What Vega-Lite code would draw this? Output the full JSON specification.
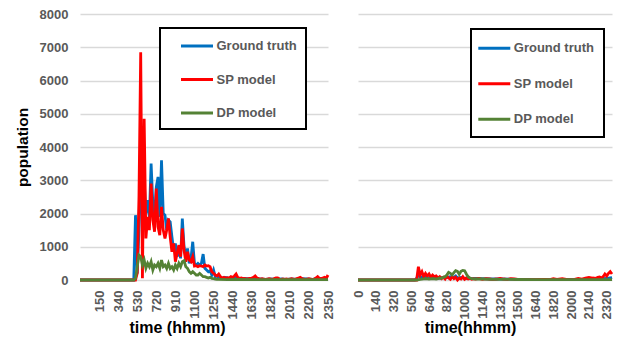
{
  "$schema": "https://vega.github.io/schema/vega-lite/v6.json",
  "background": "white",
  "padding": {"left": 15, "top": 8, "right": 5, "bottom": 0},
  "spacing": 16,
  "resolve": {"legend": {"color": "independent"}},
  "config": {
    "view": {"stroke": null},
    "font": "Liberation Sans",
    "axis": {
      "labelFont": "Liberation Sans", "labelFontWeight": "bold", "labelColor": "#595959", "labelFontSize": 13,
      "titleFont": "Liberation Sans", "titleFontWeight": "bold", "titleColor": "#000000", "titleFontSize": 15.5,
      "gridColor": "#d9d9d9", "gridWidth": 1.5, "ticks": false, "domain": false
    },
    "legend": {"strokeColor": "#000000", "strokeWidth": 2, "fillColor": "#ffffff"}
  },
  "datasets": {
    "left": [
      {"series":"Ground truth","minute":0,"value":0},{"series":"Ground truth","minute":310,"value":0},{"series":"Ground truth","minute":320,"value":1950},{"series":"Ground truth","minute":330,"value":200},{"series":"Ground truth","minute":340,"value":1500},{"series":"Ground truth","minute":350,"value":4200},{"series":"Ground truth","minute":360,"value":1500},{"series":"Ground truth","minute":370,"value":3000},{"series":"Ground truth","minute":380,"value":2000},{"series":"Ground truth","minute":390,"value":2400},{"series":"Ground truth","minute":400,"value":1900},{"series":"Ground truth","minute":410,"value":3500},{"series":"Ground truth","minute":420,"value":2300},{"series":"Ground truth","minute":430,"value":1900},{"series":"Ground truth","minute":440,"value":2800},{"series":"Ground truth","minute":450,"value":3100},{"series":"Ground truth","minute":460,"value":1900},{"series":"Ground truth","minute":470,"value":3600},{"series":"Ground truth","minute":480,"value":2000},{"series":"Ground truth","minute":490,"value":1950},{"series":"Ground truth","minute":500,"value":1500},{"series":"Ground truth","minute":510,"value":1800},{"series":"Ground truth","minute":520,"value":1750},{"series":"Ground truth","minute":530,"value":1300},{"series":"Ground truth","minute":540,"value":900},{"series":"Ground truth","minute":550,"value":1100},{"series":"Ground truth","minute":560,"value":700},{"series":"Ground truth","minute":570,"value":1000},{"series":"Ground truth","minute":580,"value":650},{"series":"Ground truth","minute":590,"value":1850},{"series":"Ground truth","minute":600,"value":1000},{"series":"Ground truth","minute":610,"value":700},{"series":"Ground truth","minute":620,"value":950},{"series":"Ground truth","minute":630,"value":500},{"series":"Ground truth","minute":640,"value":650},{"series":"Ground truth","minute":650,"value":1150},{"series":"Ground truth","minute":660,"value":500},{"series":"Ground truth","minute":670,"value":450},{"series":"Ground truth","minute":680,"value":500},{"series":"Ground truth","minute":690,"value":450},{"series":"Ground truth","minute":700,"value":500},{"series":"Ground truth","minute":710,"value":780},{"series":"Ground truth","minute":720,"value":350},{"series":"Ground truth","minute":730,"value":300},{"series":"Ground truth","minute":740,"value":250},{"series":"Ground truth","minute":750,"value":280},{"series":"Ground truth","minute":760,"value":150},{"series":"Ground truth","minute":770,"value":300},{"series":"Ground truth","minute":780,"value":100},{"series":"Ground truth","minute":790,"value":120},{"series":"Ground truth","minute":800,"value":80},{"series":"Ground truth","minute":820,"value":60},{"series":"Ground truth","minute":840,"value":80},{"series":"Ground truth","minute":860,"value":50},{"series":"Ground truth","minute":880,"value":60},{"series":"Ground truth","minute":900,"value":80},{"series":"Ground truth","minute":920,"value":40},{"series":"Ground truth","minute":950,"value":50},{"series":"Ground truth","minute":980,"value":30},{"series":"Ground truth","minute":1010,"value":60},{"series":"Ground truth","minute":1040,"value":30},{"series":"Ground truth","minute":1070,"value":20},{"series":"Ground truth","minute":1100,"value":30},{"series":"Ground truth","minute":1130,"value":20},{"series":"Ground truth","minute":1160,"value":30},{"series":"Ground truth","minute":1190,"value":20},{"series":"Ground truth","minute":1220,"value":30},{"series":"Ground truth","minute":1250,"value":20},{"series":"Ground truth","minute":1280,"value":40},{"series":"Ground truth","minute":1310,"value":30},{"series":"Ground truth","minute":1340,"value":20},{"series":"Ground truth","minute":1370,"value":40},{"series":"Ground truth","minute":1400,"value":50},{"series":"Ground truth","minute":1430,"value":60},
      {"series":"SP model","minute":0,"value":0},{"series":"SP model","minute":320,"value":0},{"series":"SP model","minute":330,"value":200},{"series":"SP model","minute":340,"value":2500},{"series":"SP model","minute":350,"value":6850},{"series":"SP model","minute":360,"value":50},{"series":"SP model","minute":370,"value":4850},{"series":"SP model","minute":380,"value":1250},{"series":"SP model","minute":390,"value":1900},{"series":"SP model","minute":400,"value":1500},{"series":"SP model","minute":410,"value":2900},{"series":"SP model","minute":420,"value":1800},{"series":"SP model","minute":430,"value":1450},{"series":"SP model","minute":440,"value":2750},{"series":"SP model","minute":450,"value":1600},{"series":"SP model","minute":460,"value":1350},{"series":"SP model","minute":470,"value":2200},{"series":"SP model","minute":480,"value":1500},{"series":"SP model","minute":490,"value":1250},{"series":"SP model","minute":500,"value":1500},{"series":"SP model","minute":510,"value":1850},{"series":"SP model","minute":520,"value":1300},{"series":"SP model","minute":530,"value":850},{"series":"SP model","minute":540,"value":1100},{"series":"SP model","minute":550,"value":550},{"series":"SP model","minute":560,"value":800},{"series":"SP model","minute":570,"value":1050},{"series":"SP model","minute":580,"value":700},{"series":"SP model","minute":590,"value":1550},{"series":"SP model","minute":600,"value":900},{"series":"SP model","minute":610,"value":550},{"series":"SP model","minute":620,"value":850},{"series":"SP model","minute":630,"value":600},{"series":"SP model","minute":640,"value":550},{"series":"SP model","minute":650,"value":700},{"series":"SP model","minute":660,"value":420},{"series":"SP model","minute":670,"value":430},{"series":"SP model","minute":680,"value":400},{"series":"SP model","minute":690,"value":430},{"series":"SP model","minute":700,"value":420},{"series":"SP model","minute":710,"value":400},{"series":"SP model","minute":720,"value":450},{"series":"SP model","minute":730,"value":420},{"series":"SP model","minute":740,"value":430},{"series":"SP model","minute":750,"value":400},{"series":"SP model","minute":760,"value":250},{"series":"SP model","minute":770,"value":200},{"series":"SP model","minute":780,"value":150},{"series":"SP model","minute":790,"value":120},{"series":"SP model","minute":800,"value":180},{"series":"SP model","minute":810,"value":100},{"series":"SP model","minute":820,"value":60},{"series":"SP model","minute":830,"value":80},{"series":"SP model","minute":840,"value":50},{"series":"SP model","minute":850,"value":70},{"series":"SP model","minute":860,"value":60},{"series":"SP model","minute":870,"value":100},{"series":"SP model","minute":880,"value":80},{"series":"SP model","minute":890,"value":120},{"series":"SP model","minute":900,"value":180},{"series":"SP model","minute":910,"value":70},{"series":"SP model","minute":920,"value":50},{"series":"SP model","minute":930,"value":60},{"series":"SP model","minute":940,"value":40},{"series":"SP model","minute":950,"value":50},{"series":"SP model","minute":960,"value":30},{"series":"SP model","minute":970,"value":40},{"series":"SP model","minute":980,"value":50},{"series":"SP model","minute":990,"value":60},{"series":"SP model","minute":1000,"value":80},{"series":"SP model","minute":1010,"value":120},{"series":"SP model","minute":1020,"value":60},{"series":"SP model","minute":1030,"value":40},{"series":"SP model","minute":1040,"value":30},{"series":"SP model","minute":1050,"value":40},{"series":"SP model","minute":1060,"value":30},{"series":"SP model","minute":1070,"value":20},{"series":"SP model","minute":1080,"value":30},{"series":"SP model","minute":1090,"value":40},{"series":"SP model","minute":1100,"value":30},{"series":"SP model","minute":1110,"value":20},{"series":"SP model","minute":1120,"value":40},{"series":"SP model","minute":1130,"value":60},{"series":"SP model","minute":1140,"value":60},{"series":"SP model","minute":1150,"value":30},{"series":"SP model","minute":1160,"value":20},{"series":"SP model","minute":1170,"value":30},{"series":"SP model","minute":1180,"value":20},{"series":"SP model","minute":1190,"value":30},{"series":"SP model","minute":1200,"value":20},{"series":"SP model","minute":1210,"value":30},{"series":"SP model","minute":1220,"value":40},{"series":"SP model","minute":1230,"value":30},{"series":"SP model","minute":1240,"value":20},{"series":"SP model","minute":1250,"value":40},{"series":"SP model","minute":1260,"value":60},{"series":"SP model","minute":1270,"value":80},{"series":"SP model","minute":1280,"value":40},{"series":"SP model","minute":1290,"value":30},{"series":"SP model","minute":1300,"value":20},{"series":"SP model","minute":1310,"value":30},{"series":"SP model","minute":1320,"value":40},{"series":"SP model","minute":1330,"value":30},{"series":"SP model","minute":1340,"value":20},{"series":"SP model","minute":1350,"value":30},{"series":"SP model","minute":1360,"value":60},{"series":"SP model","minute":1370,"value":100},{"series":"SP model","minute":1380,"value":50},{"series":"SP model","minute":1390,"value":40},{"series":"SP model","minute":1400,"value":60},{"series":"SP model","minute":1410,"value":80},{"series":"SP model","minute":1420,"value":50},{"series":"SP model","minute":1430,"value":150},
      {"series":"DP model","minute":0,"value":0},{"series":"DP model","minute":310,"value":0},{"series":"DP model","minute":320,"value":50},{"series":"DP model","minute":330,"value":400},{"series":"DP model","minute":340,"value":750},{"series":"DP model","minute":350,"value":700},{"series":"DP model","minute":360,"value":450},{"series":"DP model","minute":370,"value":600},{"series":"DP model","minute":380,"value":350},{"series":"DP model","minute":390,"value":500},{"series":"DP model","minute":400,"value":400},{"series":"DP model","minute":410,"value":550},{"series":"DP model","minute":420,"value":300},{"series":"DP model","minute":430,"value":450},{"series":"DP model","minute":440,"value":400},{"series":"DP model","minute":450,"value":500},{"series":"DP model","minute":460,"value":350},{"series":"DP model","minute":470,"value":600},{"series":"DP model","minute":480,"value":400},{"series":"DP model","minute":490,"value":450},{"series":"DP model","minute":500,"value":350},{"series":"DP model","minute":510,"value":500},{"series":"DP model","minute":520,"value":350},{"series":"DP model","minute":530,"value":400},{"series":"DP model","minute":540,"value":300},{"series":"DP model","minute":550,"value":450},{"series":"DP model","minute":560,"value":350},{"series":"DP model","minute":570,"value":500},{"series":"DP model","minute":580,"value":400},{"series":"DP model","minute":590,"value":550},{"series":"DP model","minute":600,"value":580},{"series":"DP model","minute":610,"value":400},{"series":"DP model","minute":620,"value":350},{"series":"DP model","minute":630,"value":250},{"series":"DP model","minute":640,"value":200},{"series":"DP model","minute":650,"value":250},{"series":"DP model","minute":660,"value":200},{"series":"DP model","minute":670,"value":150},{"series":"DP model","minute":680,"value":150},{"series":"DP model","minute":690,"value":200},{"series":"DP model","minute":700,"value":150},{"series":"DP model","minute":710,"value":100},{"series":"DP model","minute":720,"value":100},{"series":"DP model","minute":730,"value":80},{"series":"DP model","minute":740,"value":60},{"series":"DP model","minute":750,"value":80},{"series":"DP model","minute":760,"value":50},{"series":"DP model","minute":770,"value":40},{"series":"DP model","minute":780,"value":30},{"series":"DP model","minute":790,"value":20},{"series":"DP model","minute":800,"value":20},{"series":"DP model","minute":850,"value":10},{"series":"DP model","minute":900,"value":15},{"series":"DP model","minute":1000,"value":10},{"series":"DP model","minute":1100,"value":10},{"series":"DP model","minute":1200,"value":10},{"series":"DP model","minute":1300,"value":10},{"series":"DP model","minute":1430,"value":10}
    ],
    "right": [
      {"series":"Ground truth","minute":0,"value":0},{"series":"Ground truth","minute":320,"value":0},{"series":"Ground truth","minute":330,"value":50},{"series":"Ground truth","minute":340,"value":150},{"series":"Ground truth","minute":350,"value":100},{"series":"Ground truth","minute":360,"value":80},{"series":"Ground truth","minute":380,"value":100},{"series":"Ground truth","minute":400,"value":60},{"series":"Ground truth","minute":420,"value":80},{"series":"Ground truth","minute":440,"value":50},{"series":"Ground truth","minute":460,"value":60},{"series":"Ground truth","minute":480,"value":80},{"series":"Ground truth","minute":500,"value":70},{"series":"Ground truth","minute":520,"value":100},{"series":"Ground truth","minute":540,"value":80},{"series":"Ground truth","minute":550,"value":120},{"series":"Ground truth","minute":560,"value":60},{"series":"Ground truth","minute":580,"value":80},{"series":"Ground truth","minute":600,"value":50},{"series":"Ground truth","minute":620,"value":60},{"series":"Ground truth","minute":640,"value":40},{"series":"Ground truth","minute":660,"value":50},{"series":"Ground truth","minute":700,"value":40},{"series":"Ground truth","minute":750,"value":30},{"series":"Ground truth","minute":800,"value":30},{"series":"Ground truth","minute":900,"value":20},{"series":"Ground truth","minute":1000,"value":10},{"series":"Ground truth","minute":1100,"value":10},{"series":"Ground truth","minute":1200,"value":20},{"series":"Ground truth","minute":1300,"value":20},{"series":"Ground truth","minute":1350,"value":30},{"series":"Ground truth","minute":1400,"value":50},{"series":"Ground truth","minute":1420,"value":60},{"series":"Ground truth","minute":1430,"value":80},
      {"series":"SP model","minute":0,"value":0},{"series":"SP model","minute":330,"value":0},{"series":"SP model","minute":340,"value":400},{"series":"SP model","minute":350,"value":150},{"series":"SP model","minute":360,"value":250},{"series":"SP model","minute":370,"value":100},{"series":"SP model","minute":380,"value":200},{"series":"SP model","minute":390,"value":120},{"series":"SP model","minute":400,"value":180},{"series":"SP model","minute":410,"value":80},{"series":"SP model","minute":420,"value":150},{"series":"SP model","minute":430,"value":100},{"series":"SP model","minute":440,"value":120},{"series":"SP model","minute":450,"value":60},{"series":"SP model","minute":460,"value":100},{"series":"SP model","minute":470,"value":40},{"series":"SP model","minute":480,"value":80},{"series":"SP model","minute":490,"value":30},{"series":"SP model","minute":500,"value":120},{"series":"SP model","minute":510,"value":60},{"series":"SP model","minute":520,"value":20},{"series":"SP model","minute":530,"value":100},{"series":"SP model","minute":540,"value":40},{"series":"SP model","minute":550,"value":80},{"series":"SP model","minute":560,"value":0},{"series":"SP model","minute":570,"value":60},{"series":"SP model","minute":580,"value":30},{"series":"SP model","minute":590,"value":100},{"series":"SP model","minute":600,"value":20},{"series":"SP model","minute":610,"value":60},{"series":"SP model","minute":620,"value":30},{"series":"SP model","minute":630,"value":50},{"series":"SP model","minute":640,"value":20},{"series":"SP model","minute":650,"value":40},{"series":"SP model","minute":660,"value":30},{"series":"SP model","minute":680,"value":50},{"series":"SP model","minute":700,"value":20},{"series":"SP model","minute":720,"value":40},{"series":"SP model","minute":740,"value":30},{"series":"SP model","minute":760,"value":20},{"series":"SP model","minute":780,"value":30},{"series":"SP model","minute":800,"value":50},{"series":"SP model","minute":820,"value":30},{"series":"SP model","minute":840,"value":20},{"series":"SP model","minute":860,"value":40},{"series":"SP model","minute":880,"value":30},{"series":"SP model","minute":900,"value":20},{"series":"SP model","minute":950,"value":10},{"series":"SP model","minute":1000,"value":10},{"series":"SP model","minute":1050,"value":20},{"series":"SP model","minute":1080,"value":10},{"series":"SP model","minute":1100,"value":40},{"series":"SP model","minute":1120,"value":20},{"series":"SP model","minute":1150,"value":40},{"series":"SP model","minute":1180,"value":10},{"series":"SP model","minute":1220,"value":20},{"series":"SP model","minute":1240,"value":50},{"series":"SP model","minute":1260,"value":30},{"series":"SP model","minute":1280,"value":60},{"series":"SP model","minute":1300,"value":80},{"series":"SP model","minute":1320,"value":60},{"series":"SP model","minute":1340,"value":50},{"series":"SP model","minute":1350,"value":80},{"series":"SP model","minute":1360,"value":90},{"series":"SP model","minute":1370,"value":60},{"series":"SP model","minute":1380,"value":100},{"series":"SP model","minute":1390,"value":180},{"series":"SP model","minute":1400,"value":120},{"series":"SP model","minute":1410,"value":200},{"series":"SP model","minute":1420,"value":250},{"series":"SP model","minute":1430,"value":180},
      {"series":"DP model","minute":0,"value":0},{"series":"DP model","minute":330,"value":0},{"series":"DP model","minute":350,"value":20},{"series":"DP model","minute":380,"value":40},{"series":"DP model","minute":400,"value":30},{"series":"DP model","minute":420,"value":40},{"series":"DP model","minute":440,"value":30},{"series":"DP model","minute":450,"value":40},{"series":"DP model","minute":460,"value":60},{"series":"DP model","minute":470,"value":50},{"series":"DP model","minute":480,"value":80},{"series":"DP model","minute":490,"value":100},{"series":"DP model","minute":500,"value":150},{"series":"DP model","minute":510,"value":230},{"series":"DP model","minute":520,"value":200},{"series":"DP model","minute":530,"value":150},{"series":"DP model","minute":540,"value":220},{"series":"DP model","minute":550,"value":280},{"series":"DP model","minute":560,"value":260},{"series":"DP model","minute":570,"value":170},{"series":"DP model","minute":580,"value":260},{"series":"DP model","minute":590,"value":290},{"series":"DP model","minute":600,"value":280},{"series":"DP model","minute":610,"value":180},{"series":"DP model","minute":620,"value":100},{"series":"DP model","minute":630,"value":60},{"series":"DP model","minute":640,"value":40},{"series":"DP model","minute":660,"value":30},{"series":"DP model","minute":700,"value":30},{"series":"DP model","minute":750,"value":20},{"series":"DP model","minute":800,"value":20},{"series":"DP model","minute":900,"value":15},{"series":"DP model","minute":1000,"value":10},{"series":"DP model","minute":1100,"value":10},{"series":"DP model","minute":1200,"value":10},{"series":"DP model","minute":1300,"value":10},{"series":"DP model","minute":1430,"value":10}
    ]
  },
  "hconcat": [
    {
      "width": 248, "height": 266,
      "data": {"name": "left"},
      "mark": {"type": "line", "strokeWidth": 2.8},
      "encoding": {
        "x": {"field": "minute", "type": "quantitative",
          "scale": {"domain": [0, 1430], "nice": false, "zero": false},
          "axis": {"title": "time (hhmm)", "values": [110,220,330,440,550,660,770,880,990,1100,1210,1320,1430],
            "labelExpr": "floor(datum.value/60)*100 + datum.value%60", "labelAngle": 270, "labelPadding": 10,
            "grid": false, "titlePadding": 1, "titleX": 97, "titleFontSize": 16}},
        "y": {"field": "value", "type": "quantitative",
          "scale": {"domain": [0, 8000], "nice": false},
          "axis": {"title": "population", "values": [0,1000,2000,3000,4000,5000,6000,7000,8000], "format": "d",
            "labelPadding": 12, "titlePadding": 9, "grid": true}},
        "color": {"field": "series", "type": "nominal",
          "scale": {"domain": ["Ground truth", "SP model", "DP model"], "range": ["#0070C0", "#FF0000", "#548235"]},
          "legend": {"title": null, "orient": "none", "legendX": 80, "legendY": 14, "direction": "vertical",
            "symbolType": "M-2,0H2", "symbolSize": 256, "symbolStrokeWidth": 3, "symbolOffset": 19, "labelOffset": 10,
            "rowPadding": 16.5, "padding": 8.5, "labelFontSize": 13, "labelFont": "Liberation Sans", "labelFontWeight": "bold",
            "labelColor": "#595959", "labelLimit": 0}}
      }
    },
    {
      "width": 254, "height": 266,
      "data": {"name": "right"},
      "mark": {"type": "line", "strokeWidth": 2.8},
      "encoding": {
        "x": {"field": "minute", "type": "quantitative",
          "scale": {"domain": [0, 1430], "nice": false, "zero": false},
          "axis": {"title": "time(hhmm)", "values": [0,100,200,300,400,500,600,700,800,900,1000,1100,1200,1300,1400],
            "labelExpr": "floor(datum.value/60)*100 + datum.value%60", "labelAngle": 270, "labelPadding": 10,
            "grid": false, "titlePadding": 1, "titleX": 112, "titleFontSize": 16}},
        "y": {"field": "value", "type": "quantitative",
          "scale": {"domain": [0, 8000], "nice": false},
          "axis": {"title": null, "values": [0,1000,2000,3000,4000,5000,6000,7000,8000], "labels": false, "grid": true}},
        "color": {"field": "series", "type": "nominal",
          "scale": {"domain": ["Ground truth", "SP model", "DP model"], "range": ["#0070C0", "#FF0000", "#548235"]},
          "legend": {"title": null, "orient": "none", "legendX": 113, "legendY": 15, "direction": "vertical",
            "symbolType": "M-2,0H2", "symbolSize": 256, "symbolStrokeWidth": 3, "symbolOffset": 4, "labelOffset": 10,
            "rowPadding": 18.5, "padding": 9.8, "labelFontSize": 13, "labelFont": "Liberation Sans", "labelFontWeight": "bold",
            "labelColor": "#595959", "labelLimit": 0}}
      }
    }
  ]
}
